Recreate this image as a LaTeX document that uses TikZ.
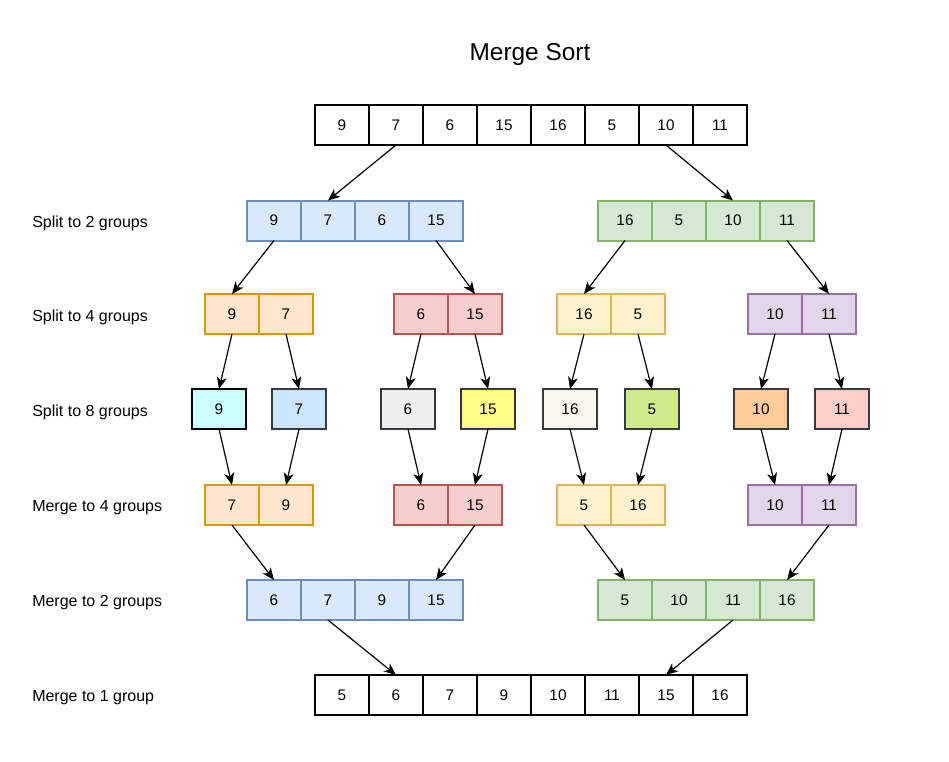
\documentclass[tikz,border=0pt]{standalone}
\usepackage{fontspec}
\setmainfont{Liberation Sans}
\usetikzlibrary{arrows.meta}

\definecolor{bluefill}{HTML}{DAE8FC}
\definecolor{bluedraw}{HTML}{6C8EBF}
\definecolor{greenfill}{HTML}{D5E8D4}
\definecolor{greendraw}{HTML}{82B366}
\definecolor{orangefill}{HTML}{FFE6CC}
\definecolor{orangedraw}{HTML}{D79B00}
\definecolor{redfill}{HTML}{F8CECC}
\definecolor{reddraw}{HTML}{B85450}
\definecolor{yellowfill}{HTML}{FFF2CC}
\definecolor{yellowdraw}{HTML}{D6B656}
\definecolor{purplefill}{HTML}{E1D5E7}
\definecolor{purpledraw}{HTML}{9673A6}
\definecolor{darkdraw}{HTML}{36393D}
\definecolor{cyanfill}{HTML}{CCFFFF}
\definecolor{skyfill}{HTML}{CCE5FF}
\definecolor{greyfill}{HTML}{EEEEEE}
\definecolor{lemonfill}{HTML}{FFFF88}
\definecolor{creamfill}{HTML}{F9F7ED}
\definecolor{limefill}{HTML}{CDEB8B}
\definecolor{peachfill}{HTML}{FFCC99}
\definecolor{pinkfill}{HTML}{FFCCCC}

\tikzset{
  cell/.style={rectangle, draw, line width=1.5pt, minimum width=40.5pt, minimum height=30pt,
    inner sep=0pt, outer sep=0pt, font=\fontsize{11.5}{13}\selectfont},
  plain/.style={cell, draw=black, fill=white},
  bluegrp/.style={cell, draw=bluedraw, fill=bluefill},
  greengrp/.style={cell, draw=greendraw, fill=greenfill},
  orangegrp/.style={cell, draw=orangedraw, fill=orangefill},
  redgrp/.style={cell, draw=reddraw, fill=redfill},
  yellowgrp/.style={cell, draw=yellowdraw, fill=yellowfill},
  purplegrp/.style={cell, draw=purpledraw, fill=purplefill},
  single/.style={cell, draw=darkdraw, fill=#1},
  arrow/.style={-{Stealth[length=9pt,width=7.5pt,inset=2.5pt]}, line width=0.9pt},
  rowlabel/.style={anchor=west, inner sep=0pt, font=\fontsize{12}{14}\selectfont}
}

\begin{document}
\begin{tikzpicture}[x=0.75pt, y=-0.75pt]
    \useasboundingbox (0,0) rectangle (949,761);

    % title
    \node (title) at (530,55) {\fontsize{18.3}{22}\selectfont Merge Sort};

    % row labels
    \node (lbl1) [rowlabel] at (32,223) {Split to 2 groups};
    \node (lbl2) [rowlabel] at (32,317) {Split to 4 groups};
    \node (lbl3) [rowlabel] at (32,412) {Split to 8 groups};
    \node (lbl4) [rowlabel] at (32,508) {Merge to 4 groups};
    \node (lbl5) [rowlabel] at (32,603) {Merge to 2 groups};
    \node (lbl6) [rowlabel] at (32,698) {Merge to 1 group};

    % unsorted input
    \foreach \v [count=\i] in {9,7,6,15,16,5,10,11}
        \node (top\i) [plain] at (288+54*\i,125) {\v};

    % split to 2 groups
    \foreach \v [count=\i] in {9,7,6,15}
        \node (sa\i) [bluegrp] at (220+54*\i,220.5) {\v};
    \foreach \v [count=\i] in {16,5,10,11}
        \node (sb\i) [greengrp] at (571+54*\i,220.5) {\v};

    % split to 4 groups
    \foreach \v [count=\i] in {9,7}
        \node (qa\i) [orangegrp] at (178+54*\i,314) {\v};
    \foreach \v [count=\i] in {6,15}
        \node (qb\i) [redgrp] at (367+54*\i,314) {\v};
    \foreach \v [count=\i] in {16,5}
        \node (qc\i) [yellowgrp] at (530+54*\i,314) {\v};
    \foreach \v [count=\i] in {10,11}
        \node (qd\i) [purplegrp] at (721+54*\i,314) {\v};

    % split to 8 groups
    \node (one1) [single=cyanfill, draw=black] at (219,409) {9};
    \node (one2) [single=skyfill] at (299,409) {7};
    \node (one3) [single=greyfill] at (408,409) {6};
    \node (one4) [single=lemonfill] at (488,409) {15};
    \node (one5) [single=creamfill] at (570,409) {16};
    \node (one6) [single=limefill] at (652,409) {5};
    \node (one7) [single=peachfill] at (761,409) {10};
    \node (one8) [single=pinkfill] at (842,409) {11};

    % merge to 4 groups
    \foreach \v [count=\i] in {7,9}
        \node (ma\i) [orangegrp] at (178+54*\i,505) {\v};
    \foreach \v [count=\i] in {6,15}
        \node (mb\i) [redgrp] at (367+54*\i,505) {\v};
    \foreach \v [count=\i] in {5,16}
        \node (mc\i) [yellowgrp] at (530+54*\i,505) {\v};
    \foreach \v [count=\i] in {10,11}
        \node (md\i) [purplegrp] at (721+54*\i,505) {\v};

    % merge to 2 groups
    \foreach \v [count=\i] in {6,7,9,15}
        \node (ta\i) [bluegrp] at (220+54*\i,600) {\v};
    \foreach \v [count=\i] in {5,10,11,16}
        \node (tb\i) [greengrp] at (571+54*\i,600) {\v};

    % sorted output
    \foreach \v [count=\i] in {5,6,7,9,10,11,15,16}
        \node (bot\i) [plain] at (288+54*\i,695) {\v};

    % arrows, split half
    \draw[arrow] (top2.south) -- (sa2.north);
    \draw[arrow] (top7.south) -- (sb3.north);
    \draw[arrow] (sa1.south) -- (qa1.north);
    \draw[arrow] (sa4.south) -- (qb2.north);
    \draw[arrow] (sb1.south) -- (qc1.north);
    \draw[arrow] (sb4.south) -- (qd2.north);
    \draw[arrow] (qa1.south) -- (one1.north);
    \draw[arrow] (qa2.south) -- (one2.north);
    \draw[arrow] (qb1.south) -- (one3.north);
    \draw[arrow] (qb2.south) -- (one4.north);
    \draw[arrow] (qc1.south) -- (one5.north);
    \draw[arrow] (qc2.south) -- (one6.north);
    \draw[arrow] (qd1.south) -- (one7.north);
    \draw[arrow] (qd2.south) -- (one8.north);

    % arrows, merge half
    \draw[arrow] (one1.south) -- (ma1.north);
    \draw[arrow] (one2.south) -- (ma2.north);
    \draw[arrow] (one3.south) -- (mb1.north);
    \draw[arrow] (one4.south) -- (mb2.north);
    \draw[arrow] (one5.south) -- (mc1.north);
    \draw[arrow] (one6.south) -- (mc2.north);
    \draw[arrow] (one7.south) -- (md1.north);
    \draw[arrow] (one8.south) -- (md2.north);
    \draw[arrow] (ma1.south) -- (ta1.north);
    \draw[arrow] (mb2.south) -- (ta4.north);
    \draw[arrow] (mc1.south) -- (tb1.north);
    \draw[arrow] (md2.south) -- (tb4.north);
    \draw[arrow] (ta2.south) -- (bot2.north);
    \draw[arrow] (tb3.south) -- (bot7.north);

\end{tikzpicture}
\end{document}
